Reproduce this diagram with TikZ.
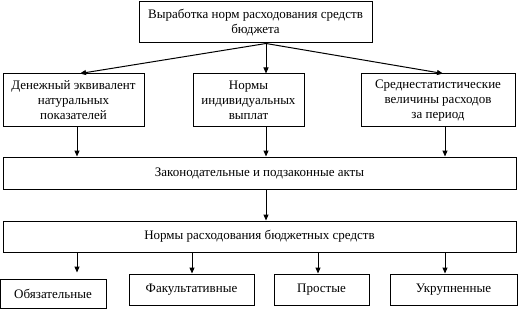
\documentclass[tikz,border=0pt]{standalone}
\usepackage{fontspec}
\setmainfont{Liberation Serif}
\newfontfamily\boxfont{Liberation Serif}
\usepackage{tikz}
\usetikzlibrary{arrows.meta,positioning,calc}

\begin{document}
\begin{tikzpicture}[
  x=1pt, y=-1pt,
  % one box style, sizes given per node below
  B/.style={rectangle, draw=black, line width=1pt, inner sep=1pt,
            align=center, font=\boxfont\fontsize{13}{15}\selectfont},
  arr/.style={-{Triangle[length=6pt,width=5pt]}, line width=1pt},
]
\useasboundingbox (0,0) rectangle (519,310);

%% ── Top ───────────────────────────────────────────────────────────
\node[B, minimum width=233pt, minimum height=41pt] (top) at (255.5,22.5)
  {Выработка норм расходования средств\\бюджета};

%% ── Sources ───────────────────────────────────────────────────────
\node[B, minimum width=141pt, minimum height=53pt] (den) at (73.5,100.5)
  {Денежный эквивалент\\натуральных\\показателей};
\node[B, minimum width=111pt, minimum height=53pt] (ind) at (248.5,100.5)
  {Нормы\\индивидуальных\\выплат};
\node[B, minimum width=154pt, minimum height=53pt] (sred) at (438,100.5)
  {Среднестатистические\\величины расходов\\за период};

%% ── Wide boxes ────────────────────────────────────────────────────
\node[B, minimum width=513pt, minimum height=32pt] (zak) at (259.5,173)
  {Законодательные и подзаконные акты};
\node[B, minimum width=513pt, minimum height=31pt] (norm) at (259.5,236.5)
  {Нормы расходования бюджетных средств};

%% ── Kinds ─────────────────────────────────────────────────────────
\node[B, minimum width=106pt, minimum height=29pt] (obz) at (53,293.5) {Обязательные};
\node[B, minimum width=125pt, minimum height=31pt] (fak) at (191.5,289.5) {Факультативные};
\node[B, minimum width=95pt,  minimum height=31pt] (pro) at (321.5,289.5) {Простые};
\node[B, minimum width=127pt, minimum height=31pt] (ukr) at (453.5,289.5) {Укрупненные};

%% ── Arrow columns ─────────────────────────────────────────────────
\coordinate (cl) at (77,0);
\coordinate (cm) at (266,0);
\coordinate (cr) at (445,0);
\coordinate (c2) at (192,0);
\coordinate (c3) at (318,0);
\coordinate (src) at (top.south -| cm);

%% ── Arrows ────────────────────────────────────────────────────────
\draw[arr] (src) -- ($(den.north -| cl)+(3,0)$);
\draw[arr] (src) -- (ind.north -| cm);
\draw[arr] (src) -- ($(sred.north -| cr)+(-2,0)$);
\foreach \b/\c in {den/cl, ind/cm, sred/cr}
  \draw[arr] (\b.south -| \c) -- (zak.north -| \c);
\draw[arr] (zak.south -| cm) -- (norm.north -| cm);
\draw[arr] (norm.south -| cl) -- ++(0,20);
\foreach \b/\c in {fak/c2, pro/c3, ukr/cr}
  \draw[arr] (norm.south -| \c) -- (\b.north -| \c);

\end{tikzpicture}
\end{document}
